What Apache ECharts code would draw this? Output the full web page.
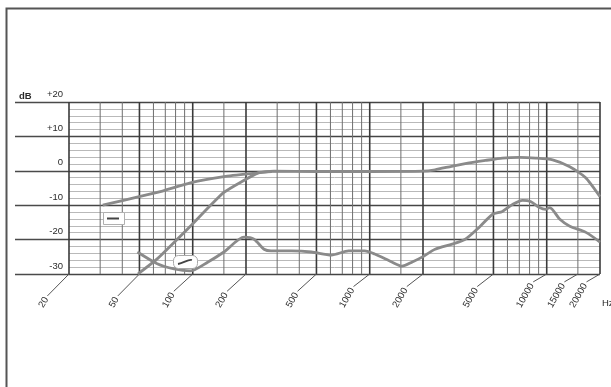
<!DOCTYPE html>
<html><head><meta charset="utf-8">
<script src="https://cdn.jsdelivr.net/npm/echarts@6/dist/echarts.min.js"></script>
<style>html,body{margin:0;padding:0;background:#fff}#c{width:611px;height:387px}</style>
</head><body><div id="c"></div>
<script>
// ---- data ----
const tickFreqs = [20, 50, 100, 200, 500, 1000, 2000, 5000, 10000, 15000, 20000];
const tickLabels = ['20', '50', '100', '200', '500', '1000', '2000', '5000', '10000', '15000', '20000'];
const gridFreqs = [20, 30, 40, 50, 60, 70, 80, 90, 100, 150, 200, 300, 400, 500, 600, 700, 800, 900,
  1000, 1500, 2000, 3000, 4000, 5000, 6000, 7000, 8000, 9000, 10000, 15000, 20000];
const majorFreqs = [20, 50, 100, 200, 500, 1000, 2000, 5000, 10000, 20000];

const freqA = [31, 63, 97, 150, 234, 288, 500, 1000, 2000, 2340, 2900, 3650, 4500, 5620, 7000, 8660, 10800, 13500, 16600, 20000];
const dbA   = [-10, -6.3, -3.5, -1.7, -0.6, -0.1, -0.2, -0.2, -0.1, 0.3, 1.3, 2.3, 3.0, 3.7, 3.9, 3.7, 3.2, 1.2, -2.0, -7.5];

const freqB = [49, 63, 97, 150, 234, 280];
const dbB   = [-30, -25.6, -16.1, -6.3, -0.6, -0.2];

const freqC = [48.7, 63, 78.5, 97, 122, 150, 195, 222, 253, 277, 361, 468, 608, 760, 936, 1067, 1333, 1520, 1740, 1975,
  2340, 2925, 3466, 4160, 4930, 5620, 6410, 7300, 8100, 9120, 9860, 10400, 11860, 13500, 16650, 20000];
const dbC   = [-23.6, -27, -28.5, -29.1, -26.5, -23.6, -19.3, -19.9, -22.8, -23.3, -23.3, -23.6, -24.5, -23.3, -23.3, -24.2, -26.5, -27.7, -26.5, -25.1,
  -22.8, -21.3, -19.9, -16.4, -12.7, -11.8, -9.8, -8.6, -8.9, -10.7, -11.2, -10.7, -14.1, -16.1, -17.9, -20.7];

const zip = (fs, ds) => fs.map((f, i) => [f, ds[i]]);
const FONT = '9.5px "Liberation Sans", Arial, sans-serif';
const CURVE = '#8a8a8a';

const chart = echarts.init(document.getElementById('c'), null, {renderer: 'canvas'});
const curve = (name, data, smooth) => ({
  name, type: 'line', data, smooth, symbol: 'none', z: 5, clip: false,
  lineStyle: {color: CURVE, width: 2.8}, animation: false
});

chart.setOption({
  animation: false,
  backgroundColor: '#fff',
  grid: {left: 69, right: 11, top: 102, bottom: 113, containLabel: false, outerBoundsMode: 'none'},
  xAxis: {
    type: 'log', logBase: 10, min: 20, max: 20000,
    axisLine: {show: false}, axisTick: {show: false}, axisLabel: {show: false}, splitLine: {show: false}
  },
  yAxis: {
    type: 'value', min: -30, max: 20, interval: 10,
    axisLine: {show: false},
    axisTick: {show: true, length: 54, lineStyle: {color: '#4a4a4a', width: 1.4}},
    axisLabel: {
      color: '#2a2a2a', fontSize: 9.5, fontFamily: '"Liberation Sans", Arial, sans-serif',
      verticalAlign: 'bottom', margin: 6, padding: [0, 0, 3, 0],
      formatter: v => (v > 0 ? '+' + v : String(v))
    },
    splitLine: {show: true, lineStyle: {color: '#454545', width: 1.4}},
    minorTick: {show: false},
    minorSplitLine: {show: true, lineStyle: {color: '#b9b9b9', width: 1}},
    splitNumber: 5
  },
  series: [
    {
      type: 'custom', z: 1, clip: false, silent: true,
      data: gridFreqs.map(f => [f, majorFreqs.includes(f) ? 1 : 0]),
      encode: {x: 0},
      renderItem(params, api) {
        const f = api.value(0), major = api.value(1);
        const t = api.coord([f, 20]), b = api.coord([f, -30]);
        return {type: 'line', shape: {x1: t[0], y1: t[1], x2: b[0], y2: b[1]},
          style: {stroke: major ? '#3a3a3a' : '#6e6e6e', lineWidth: major ? 1.6 : 1}};
      }
    },
    {
      type: 'custom', z: 2, clip: false, silent: true,
      data: tickFreqs.map(f => [f]),
      encode: {x: 0},
      renderItem(params, api) {
        const f = api.value(0);
        const txt = tickLabels[params.dataIndex];
        const p = api.coord([f, -30]);
        const ang = 60 * Math.PI / 180;
        const sx = p[0] - 28, sy = p[1] + 33;
        const w = txt.length * 5.4 + 2;
        const ex = sx + w * Math.cos(ang), ey = sy - w * Math.sin(ang);
        return {type: 'group', children: [
          {type: 'line', shape: {x1: p[0], y1: p[1], x2: ex, y2: ey}, style: {stroke: '#555', lineWidth: 1}},
          {type: 'text', x: sx, y: sy, rotation: ang,
            style: {text: txt, font: FONT, fill: '#2a2a2a', align: 'left', verticalAlign: 'middle'}}
        ]};
      }
    },
    curve('A', zip(freqA, dbA), 0.2),
    curve('B', zip(freqB, dbB), 0.15),
    curve('C', zip(freqC, dbC), 0.25)
  ],
  graphic: [
    {type: 'rect', shape: {x: 6.5, y: 8.5, width: 640, height: 420}, style: {fill: 'none', stroke: '#555', lineWidth: 2}, z: 100},
    {type: 'text', left: 19, top: 91, style: {text: 'dB', font: 'bold 9.5px "Liberation Sans", Arial, sans-serif', fill: '#2a2a2a'}},
    {type: 'text', left: 602, top: 298, style: {text: 'Hz', font: FONT, fill: '#2a2a2a'}},
    {type: 'rect', shape: {x: 103.5, y: 212.5, width: 21, height: 12}, style: {fill: '#fff', stroke: '#b0b0b0', lineWidth: 1}, z: 50},
    {type: 'line', shape: {x1: 107, y1: 218.5, x2: 119, y2: 218.5}, style: {stroke: '#444', lineWidth: 2}, z: 51},
    {type: 'rect', shape: {x: 173.5, y: 255.5, width: 24, height: 13, r: 5}, style: {fill: '#fff', stroke: '#a8a8a8', lineWidth: 1}, z: 50},
    {type: 'bezierCurve', shape: {x1: 178, y1: 264, x2: 192, y2: 260, cpx1: 184, cpy1: 263, cpx2: 188, cpy2: 259}, style: {stroke: '#444', lineWidth: 1.8, fill: 'none'}, z: 51}
  ]
});
</script></body></html>
